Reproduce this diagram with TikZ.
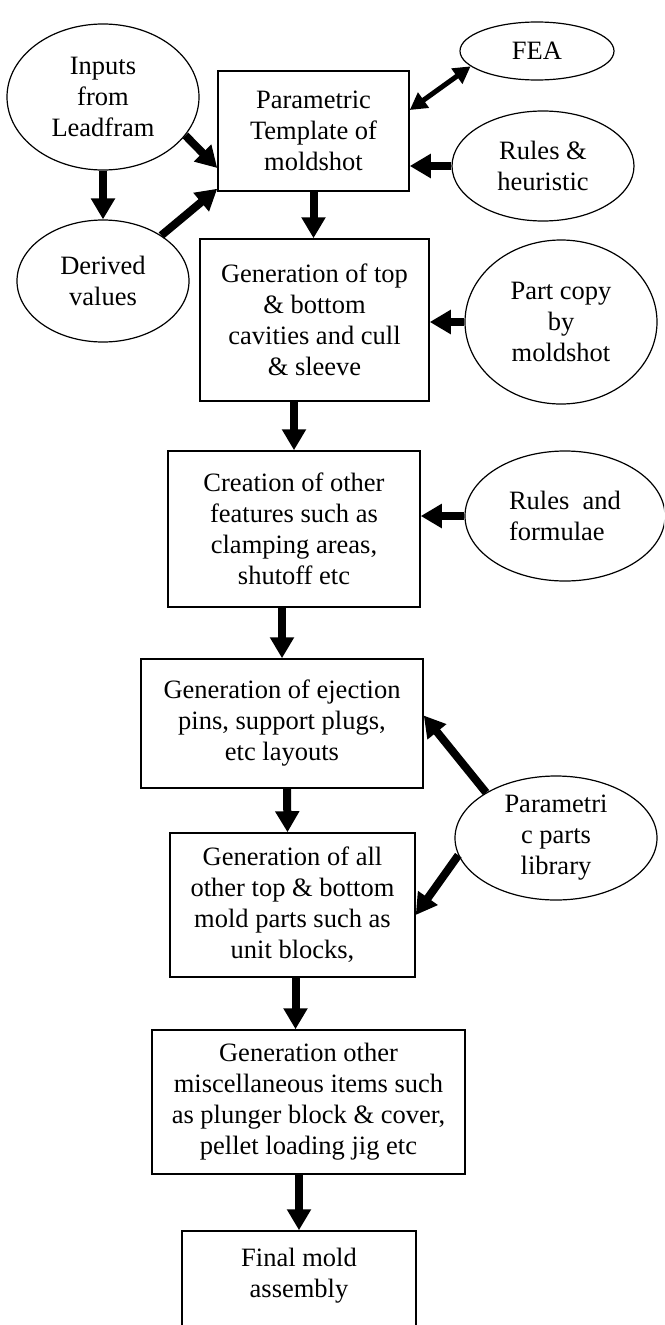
\documentclass[tikz,border=0pt]{standalone}
\usepackage{fontspec}
\setmainfont{Liberation Serif}
\usepackage{tikz}
\usetikzlibrary{shapes.geometric,arrows.meta}

\begin{document}
\begin{tikzpicture}[x=1pt,y=-1pt,
			every node/.style={font=\fontsize{26.5}{31}\selectfont, align=center, inner sep=0pt},
			stage/.style={draw, rectangle, line width=1.5pt},
			source/.style={draw, ellipse, line width=1.2pt},
			flow/.style={line width=8pt, -{Triangle[length=21pt,width=23pt]}},
			link/.style={line width=5pt, {Triangle[length=17pt,width=18pt]}-{Triangle[length=17pt,width=18pt]}}]
			\useasboundingbox (0,0) rectangle (664,1325);
			\clip (0,0) rectangle (664,1325);
			\node[stage, minimum width=191pt, minimum height=120pt] (tmpl) at (313.5,131) {Parametric\\Template of\\moldshot};
			\node[stage, minimum width=229pt, minimum height=162pt] (cav) at (314.5,320) {Generation of top\\\& bottom\\cavities and cull\\\& sleeve};
			\node[stage, minimum width=252pt, minimum height=156pt] (feat) at (294,529) {Creation of other\\features such as\\clamping areas,\\shutoff etc};
			\node[stage, minimum width=282pt, minimum height=129pt] (eject) at (282,723.5) {Generation of ejection\\pins, support plugs,\\etc layouts};
			\node[stage, minimum width=245pt, minimum height=144pt] (parts) at (292.5,905) {Generation of all\\other top \& bottom\\mold parts such as\\unit blocks,};
			\node[stage, minimum width=313pt, minimum height=144pt] (misc) at (308.5,1102) {Generation other\\miscellaneous items such\\as plunger block \& cover,\\pellet loading jig etc};
			\node[stage, minimum width=234pt, minimum height=114pt] (final) at (299,1288) {Final mold\\assembly\\~};
			\node[source, minimum width=192pt, minimum height=146pt] (inp) at (103,97) {Inputs\\from\\Leadfram};
			\node[source, minimum width=172pt, minimum height=122pt] (der) at (103,281) {Derived\\values};
			\node[source, minimum width=154pt, minimum height=58pt] (fea) at (537,51) {FEA};
			\node[source, minimum width=182pt, minimum height=110pt] (rul) at (543,166) {Rules \&\\heuristic};
			\node[source, minimum width=192pt, minimum height=164pt] (pcm) at (561,322) {Part copy\\by\\moldshot};
			\node[source, minimum width=200pt, minimum height=130pt, align=left] (rfo) at (565,516) {Rules\ \ and\\formulae};
			\node[source, minimum width=202pt, minimum height=124pt] (ppl) at (556,838) {Parametri\\c parts\\library};
			\draw[flow] (inp.south) -- (der.north);
			\draw[flow] (inp.-25) -- ([yshift=-37pt]tmpl.west);
			\draw[flow] (der.38) -- ([yshift=3pt]tmpl.south west);
			\draw[link] ([yshift=21pt]tmpl.east) -- (fea.193);
			\draw[flow] (rul.west) -- (rul.west -| tmpl.east);
			\draw[flow] (tmpl.south) -- (tmpl.south |- cav.north);
			\draw[flow] (pcm.west) -- (pcm.west -| cav.east);
			\draw[flow] (feat.north |- cav.south) -- (feat.north);
			\draw[flow] (rfo.west) -- (rfo.west -| feat.east);
			\draw[flow] (eject.north |- feat.south) -- (eject.north);
			\draw[flow] ([xshift=5pt]eject.south) -- ([xshift=-5pt]parts.north);
			\draw[flow] (ppl.147) -- ([yshift=8pt]eject.east);
			\draw[flow] (ppl.190) -- ([yshift=-10pt]parts.east);
			\draw[flow] ([xshift=3pt]parts.south) -- ([xshift=3pt]parts.south |- misc.north);
			\draw[flow] (final.north |- misc.south) -- (final.north);
		\end{tikzpicture}
\end{document}
